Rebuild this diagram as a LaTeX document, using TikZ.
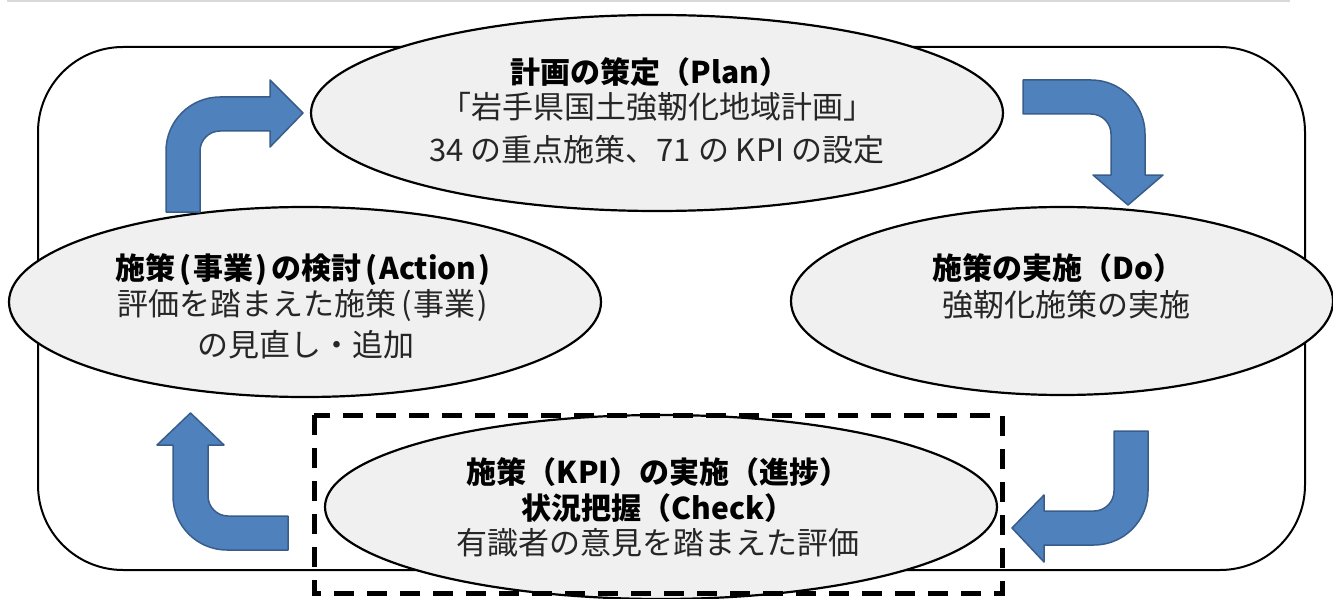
\documentclass[tikz,border=0pt]{standalone}
\usepackage{fontspec}
\setmainfont{Noto Sans CJK JP}
\usetikzlibrary{shapes.geometric}
\definecolor{arrowfill}{HTML}{4F81BD}
\definecolor{arrowline}{HTML}{385D8A}
\definecolor{bubblefill}{HTML}{F0F0F0}
\definecolor{rulegray}{HTML}{D9D9D9}
\definecolor{softtext}{HTML}{262626}
\newcommand{\lpar}{\kern4pt(\kern2pt}
\newcommand{\rpar}{\kern2pt)\kern4pt}
\newcommand{\blpar}{\kern5pt(\kern2pt}
\newcommand{\brpar}{\kern2pt)\kern5pt}
\begin{document}
\begin{tikzpicture}[x=1pt,y=-1pt,
  bubble/.style={ellipse, draw=black, line width=2.2pt, fill=bubblefill, inner sep=0pt},
  titletext/.style={font=\fontsize{30}{36}\selectfont\bfseries, inner sep=0pt, anchor=base},
  bodytext/.style={font=\fontsize{31}{36}\selectfont, text=softtext, inner sep=0pt, anchor=base},
  flow/.style={fill=arrowfill, draw=arrowline, line width=1.5pt, line join=round},
  outerframe/.style={draw=black, line width=2pt, rounded corners=85pt},
  checkbox/.style={draw=black, line width=5pt, dash pattern=on 20pt off 13pt}]
\useasboundingbox (0,0) rectangle (1333,599);
% top rule
\draw[rulegray, line width=3pt] (7,1) -- (1290,1);
% outer frame
\draw[outerframe] (38,47) rectangle (1305,570);
% ellipses
\node[bubble, minimum width=692pt, minimum height=196pt] (plan) at (657,113) {};
\node[bubble, minimum width=592pt, minimum height=190pt] (action) at (305,302) {};
\node[bubble, minimum width=542pt, minimum height=188pt] (do) at (1062,301) {};
\node[bubble, minimum width=672pt, minimum height=184pt] (check) at (661,507) {};
% texts
\node[titletext] (plan1) at (650,84) {計画の策定（Plan）};
\node[bodytext] (plan2) at (657,119) {「岩手県国土強靭化地域計画」};
\node[bodytext] (plan3) at (657,161) {34 の重点施策、71 の KPI の設定};
\node[titletext] (action1) at (305,279) {施策\lpar 事業\rpar の検討\lpar Action\rpar};
\node[bodytext] (action2) at (305,315) {評価を踏まえた施策\blpar 事業\brpar};
\node[bodytext] (action3) at (306,356) {の見直し・追加};
\node[titletext] (do1) at (1058,279) {施策の実施（Do）};
\node[bodytext] (do2) at (1066,316) {強靭化施策の実施};
\node[titletext] (check1) at (658,483) {施策（KPI）の実施（進捗）};
\node[titletext] (check2) at (658,519) {状況把握（Check）};
\node[bodytext] (check3) at (658,554) {有識者の意見を踏まえた評価};
% arrows
\path[flow] (166,212) -- (166,151) .. controls (166,121.2) and (190.2,97) .. (220,97)
  -- (270,97) -- (270,80) -- (303,113) -- (270,147) -- (270,131) -- (220,131)
  .. controls (209,131) and (200,140) .. (200,151) -- (200,212) -- cycle;
\path[flow] (1023,80) -- (1091,80) .. controls (1120.8,80) and (1145,104.2) .. (1145,134)
  -- (1145,175) -- (1163,175) -- (1128,205) -- (1093,175) -- (1111,175) -- (1111,134)
  .. controls (1111,123) and (1102,114) .. (1091,114) -- (1023,114) -- cycle;
\path[flow] (1114,431) -- (1148,431) -- (1148,491) .. controls (1148,520.8) and (1123.8,545) .. (1094,545)
  -- (1044,545) -- (1044,562) -- (1012,528) -- (1044,495) -- (1044,511) -- (1094,511)
  .. controls (1105,511) and (1114,502) .. (1114,491) -- cycle;
\path[flow] (288,516) -- (288,550) -- (227,550) .. controls (197.2,550) and (173,525.8) .. (173,496)
  -- (173,445) -- (157,445) -- (190.5,413) -- (224,445) -- (208,445) -- (208,496)
  .. controls (208,507) and (217,516) .. (228,516) -- cycle;
% dashed box
\draw[checkbox] (314,415) rectangle (1002,593);
\end{tikzpicture}
\end{document}
